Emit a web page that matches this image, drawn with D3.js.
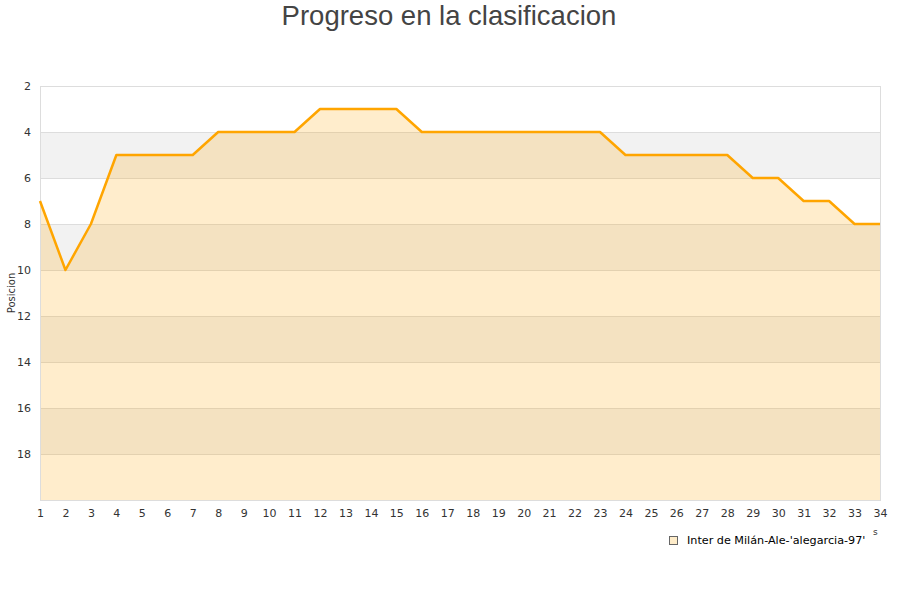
<!DOCTYPE html>
<html>
<head>
<meta charset="utf-8">
<script src="https://cdn.jsdelivr.net/npm/d3@7"></script>
<style>
  body { margin: 0; background: #fff; }
  svg text { font-family: "DejaVu Sans", sans-serif; }
</style>
</head>
<body>
<div id="chart"></div>
<script>
// datos
var jornadas = d3.range(1, 35);
var posiciones = [7, 10, 8, 5, 5, 5, 5, 4, 4, 4, 4, 3, 3, 3, 3, 4, 4, 4, 4, 4, 4, 4, 4,
                  5, 5, 5, 5, 5, 6, 6, 7, 7, 8, 8];
var yTicks = [2, 4, 6, 8, 10, 12, 14, 16, 18];
var serieNombre = "Inter de Milán-Ale-'alegarcia-97'";

var svgWidth = 900;
var svgHeight = 600;
var margin = { top: 86, right: 20, bottom: 100, left: 40 };
var width = svgWidth - margin.left - margin.right;
var height = svgHeight - margin.top - margin.bottom;

var svg = d3.select("#chart").append("svg")
    .attr("width", svgWidth)
    .attr("height", svgHeight);

var data = jornadas.map(function (j, i) { return { x: j, y: posiciones[i] }; });

var x = d3.scaleLinear().domain([1, 34]).range([0, width]);
var y = d3.scaleLinear().domain([2, 20]).range([0, height]);

var g = svg.append("g")
    .attr("transform", `translate(${margin.left}, ${margin.top})`);

// bandas alternas
var bandas = d3.range(2, 20, 2);
g.selectAll("rect.banda")
    .data(bandas)
    .enter()
    .append("rect")
    .attr("class", "banda")
    .attr("x", 0)
    .attr("width", width)
    .attr("y", d => y(d))
    .attr("height", d => y(d + 2) - y(d))
    .attr("fill", (d, i) => i % 2 === 1 ? "#f2f2f2" : "#ffffff");

// rejilla
g.selectAll("line.grid")
    .data(yTicks.concat([20]))
    .enter()
    .append("line")
    .attr("x1", 0)
    .attr("x2", width)
    .attr("y1", d => y(d) + 0.5)
    .attr("y2", d => y(d) + 0.5)
    .attr("stroke", "#dddddd");

// area
var area = d3.area()
    .x(d => x(d.x))
    .y0(y(20))
    .y1(d => y(d.y));

g.append("path")
    .datum(data)
    .attr("d", area)
    .attr("fill", "#ffa500")
    .attr("fill-opacity", 0.2);

// borde
g.append("rect")
    .attr("x", 0.5)
    .attr("y", 0.5)
    .attr("width", width)
    .attr("height", height)
    .attr("fill", "none")
    .attr("stroke", "#dddddd");

// linea
var line = d3.line()
    .x(d => x(d.x))
    .y(d => y(d.y));

g.append("path")
    .datum(data)
    .attr("d", line)
    .attr("fill", "none")
    .attr("stroke", "#ffa500")
    .attr("stroke-width", 2.5)
    .attr("stroke-linejoin", "round");

// eje y
var leftAxis = d3.axisLeft(y).tickValues(yTicks).tickSize(0).tickPadding(9);
var yAxis = g.append("g").call(leftAxis);
yAxis.select(".domain").remove();
yAxis.selectAll("text")
    .style("font-size", "11px")
    .attr("fill", "#333333");

// eje x
var bottomAxis = d3.axisBottom(x).tickValues(jornadas).tickFormat(d3.format("d")).tickSize(0).tickPadding(9);
var xAxis = g.append("g")
    .attr("transform", `translate(0, ${height})`)
    .call(bottomAxis);
xAxis.select(".domain").remove();
xAxis.selectAll("text")
    .style("font-size", "11px")
    .attr("fill", "#333333");

// titulo
svg.append("text")
    .attr("x", 449)
    .attr("y", 25)
    .attr("text-anchor", "middle")
    .style("font-family", "'Liberation Sans', Arial, sans-serif")
    .style("font-size", "27.5px")
    .attr("fill", "#444444")
    .text("Progreso en la clasificacion");

// titulo eje y
svg.append("text")
    .attr("transform", "rotate(-90)")
    .attr("x", -293)
    .attr("y", 15)
    .attr("text-anchor", "middle")
    .style("font-size", "10px")
    .attr("fill", "#333333")
    .text("Posicion");

// resto del titulo del eje x
svg.append("text")
    .attr("x", 873)
    .attr("y", 535)
    .style("font-size", "9px")
    .attr("fill", "#333333")
    .text("s");

// leyenda
var leyenda = svg.append("g").attr("transform", "translate(669, 536)");
leyenda.append("rect")
    .attr("x", 0.5)
    .attr("y", 0.5)
    .attr("width", 8)
    .attr("height", 8)
    .attr("fill", "#feecc9")
    .attr("stroke", "#666666");
leyenda.append("text")
    .attr("x", 18)
    .attr("y", 8)
    .style("font-size", "11.2px")
    .attr("fill", "#000000")
    .text(serieNombre);
</script>
</body>
</html>
